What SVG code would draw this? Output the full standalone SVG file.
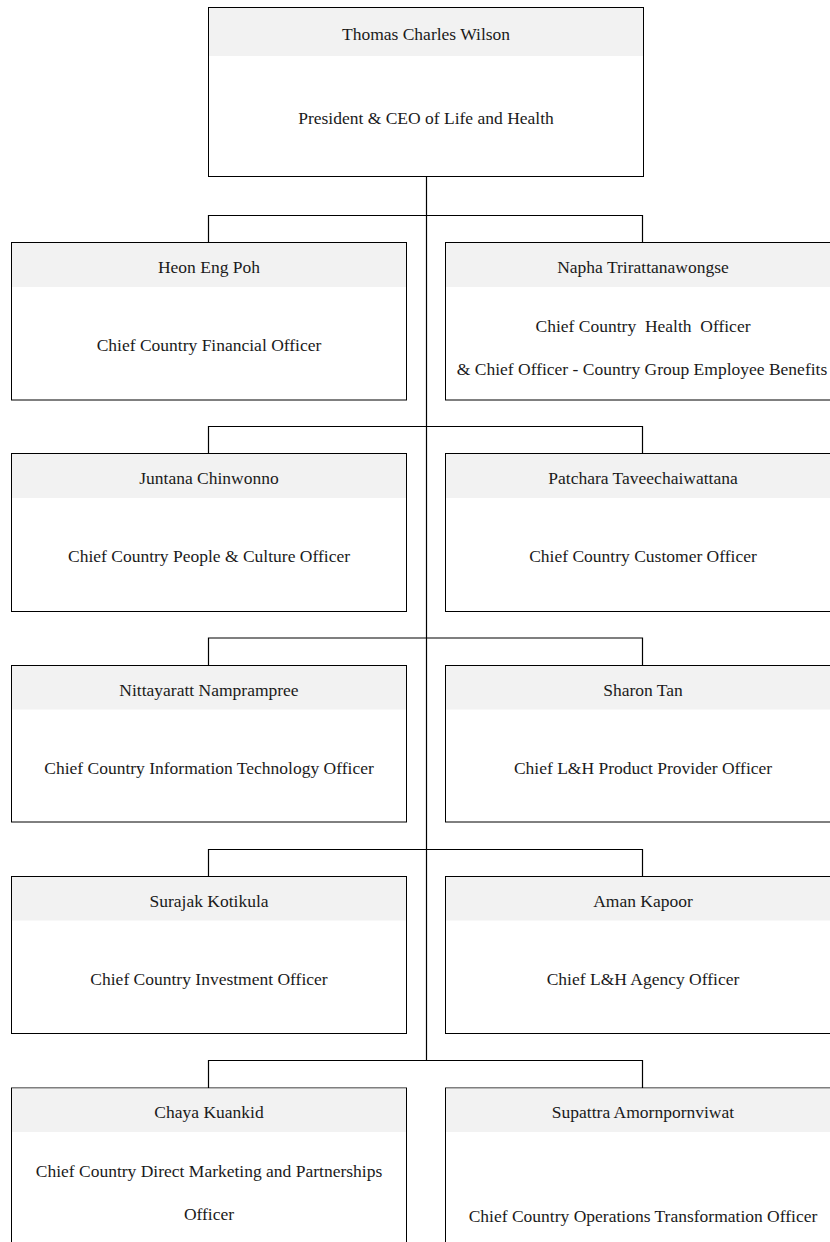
<svg xmlns="http://www.w3.org/2000/svg" width="830" height="1242" viewBox="0 0 830 1242">
<style>
.box{fill:#fff;stroke:#000;stroke-width:1}
.hdr{fill:#f2f2f2}
.t{font-family:"Liberation Serif","Times New Roman",serif;font-size:17.5px;fill:#1a1a1a;text-anchor:middle}
.c{fill:none;stroke:#000;stroke-width:1.2}
</style>
<rect width="830" height="1242" fill="#fff"/>
<g id="connectors">
<path class="c" d="M426.5 176.5V1061"/>
<path class="c" d="M208.5 242V215.5H642.5V242"/>
<path class="c" d="M208.5 453.5V426.5H642.5V453.5"/>
<path class="c" d="M208.5 665V638H642.5V665"/>
<path class="c" d="M208.5 876.5V849.5H642.5V876.5"/>
<path class="c" d="M208.5 1088V1060.5H642.5V1088"/>
</g>
<g id="root">
<rect class="box" x="208.5" y="7.5" width="435" height="169"/>
<rect class="hdr" x="209" y="8" width="434" height="48"/>
<text class="t" x="426" y="40">Thomas Charles Wilson</text>
<text class="t" x="426" y="124">President &amp; CEO of Life and Health</text>
</g>
<g id="heon">
<rect class="box" x="11.5" y="242.5" width="395" height="157.5"/>
<rect class="hdr" x="12" y="243" width="394" height="44"/>
<text class="t" x="209" y="272.5">Heon Eng Poh</text>
<text class="t" x="209" y="351">Chief Country Financial Officer</text>
</g>
<g id="napha">
<rect class="box" x="445.5" y="242.5" width="395" height="157.5"/>
<rect class="hdr" x="446" y="243" width="394" height="44"/>
<text class="t" x="643" y="272.5">Napha Trirattanawongse</text>
<text class="t" x="643" y="331.5" xml:space="preserve">Chief Country  Health  Officer</text>
<text class="t" x="642" y="375">&amp; Chief Officer - Country Group Employee Benefits</text>
</g>
<g id="juntana">
<rect class="box" x="11.5" y="453.5" width="395" height="158"/>
<rect class="hdr" x="12" y="454" width="394" height="44"/>
<text class="t" x="209" y="483.5">Juntana Chinwonno</text>
<text class="t" x="209" y="562">Chief Country People &amp; Culture Officer</text>
</g>
<g id="patchara">
<rect class="box" x="445.5" y="453.5" width="395" height="158"/>
<rect class="hdr" x="446" y="454" width="394" height="44"/>
<text class="t" x="643" y="483.5">Patchara Taveechaiwattana</text>
<text class="t" x="643" y="562">Chief Country Customer Officer</text>
</g>
<g id="nittayaratt">
<rect class="box" x="11.5" y="665.5" width="395" height="156.5"/>
<rect class="hdr" x="12" y="666" width="394" height="43.5"/>
<text class="t" x="209" y="695.5">Nittayaratt Namprampree</text>
<text class="t" x="209" y="773.5">Chief Country Information Technology Officer</text>
</g>
<g id="sharon">
<rect class="box" x="445.5" y="665.5" width="395" height="156.5"/>
<rect class="hdr" x="446" y="666" width="394" height="43.5"/>
<text class="t" x="643" y="695.5">Sharon Tan</text>
<text class="t" x="643" y="773.5">Chief L&amp;H Product Provider Officer</text>
</g>
<g id="surajak">
<rect class="box" x="11.5" y="876.5" width="395" height="157"/>
<rect class="hdr" x="12" y="877" width="394" height="43.5"/>
<text class="t" x="209" y="906.5">Surajak Kotikula</text>
<text class="t" x="209" y="985">Chief Country Investment Officer</text>
</g>
<g id="aman">
<rect class="box" x="445.5" y="876.5" width="395" height="157"/>
<rect class="hdr" x="446" y="877" width="394" height="43.5"/>
<text class="t" x="643" y="906.5">Aman Kapoor</text>
<text class="t" x="643" y="985">Chief L&amp;H Agency Officer</text>
</g>
<g id="chaya">
<rect class="box" x="11.5" y="1088" width="395" height="220"/>
<rect class="hdr" x="12" y="1088.5" width="394" height="43.5"/>
<text class="t" x="209" y="1118">Chaya Kuankid</text>
<text class="t" x="209" y="1177">Chief Country Direct Marketing and Partnerships</text>
<text class="t" x="209" y="1219.5">Officer</text>
</g>
<g id="supattra">
<rect class="box" x="445.5" y="1088" width="395" height="220"/>
<rect class="hdr" x="446" y="1088.5" width="394" height="43.5"/>
<text class="t" x="643" y="1118">Supattra Amornpornviwat</text>
<text class="t" x="643" y="1221.5">Chief Country Operations Transformation Officer</text>
</g>
</svg>
